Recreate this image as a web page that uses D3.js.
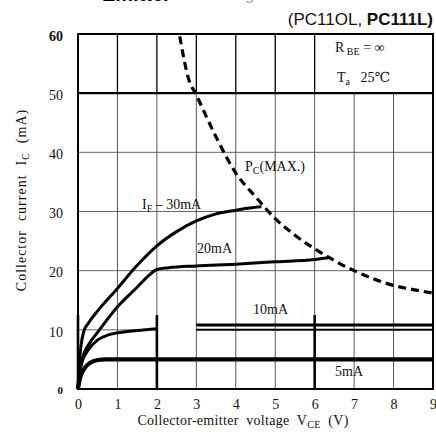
<!DOCTYPE html>
<html>
<head>
<meta charset="utf-8">
<script src="https://cdn.jsdelivr.net/npm/d3@7"></script>
<style>
  html, body { margin: 0; padding: 0; background: #fff; }
  svg { display: block; }
  svg text { white-space: pre; }
  .serif { font-family: "Liberation Serif", "DejaVu Serif", serif; }
  .sans { font-family: "Liberation Sans", Arial, sans-serif; }
</style>
</head>
<body>
<svg id="chart" width="436" height="437"></svg>
<script>
// Collector current vs. collector-emitter voltage (PC110L / PC111L)
const xTicks = [0, 1, 2, 3, 4, 5, 6, 7, 8, 9];
const yTicks = [0, 10, 20, 30, 40, 50, 60];

// I_F curves: [V_CE (V), I_C (mA)]; null marks a break in the trace
const curve30mA = [[0,0],[0.03,4],[0.08,7.5],[0.15,9.8],[0.25,11],[0.5,13.2],[1,17],[1.5,20.9],[2,24.2],[2.5,26.6],[3,28.4],[3.5,29.6],[4,30.2],[4.35,30.6],[4.65,30.8]];
const curve20mA = [[0,0],[0.05,3],[0.1,4.8],[0.3,7.8],[0.5,9.6],[1,13.9],[1.5,17.2],[1.8,19.2],[2,20.2],[2.3,20.5],[3,20.8],[4,21.1],[5,21.5],[6,21.9],[6.35,22.2]];
const curve10mA = [[0,0],[0.05,3],[0.1,4.5],[0.25,6.5],[0.5,8.3],[0.75,9.1],[1,9.5],[1.5,9.9],[2,10.2],null,[3,10.8],[9,10.8]];
const curve5mA  = [[0,0],[0.05,1.8],[0.1,2.7],[0.2,3.8],[0.3,4.4],[0.5,4.9],[0.7,5],[9,5]];

// Maximum collector power dissipation limit
const pcMax = [[2.58,59.6],[2.8,52.5],[3,49.7],[3.5,42.6],[4,36.5],[4.5,32.5],[5,28.8],[5.5,26],[6,23.7],[6.5,21.7],[7,20],[7.5,18.6],[8,17.5],[8.5,16.8],[9,16.2]];

const svg = d3.select("#chart");
svg.append("rect").attr("width", 436).attr("height", 437).attr("fill", "#fff");

const x = d3.scaleLinear().domain([0, 9]).range([78, 433]);
const y = d3.scaleLinear().domain([0, 60]).range([389, 34]);

// Heading line above the subtitle (runs off the top of the page)
svg.append("text").attr("class", "sans").attr("x", 102).attr("y", 1)
  .attr("font-size", 20).attr("font-weight", "bold").attr("fill", "#000").text("Emitter");
svg.append("text").attr("class", "sans").attr("x", 207).attr("y", 0)
  .attr("font-size", 17).attr("fill", "#aaa").text("Voltage");

// Subtitle
const sub = svg.append("text").attr("class", "sans").attr("x", 433).attr("y", 25)
  .attr("text-anchor", "end").attr("font-size", 17).attr("fill", "#111");
sub.append("tspan").text("(PC11OL, ");
sub.append("tspan").attr("font-weight", "bold").text("PC111L)");

// Grid
const grid = svg.append("g");
// vertical lines below 50 mA
grid.selectAll(".vlo").data(xTicks.slice(1, 9)).join("line")
  .attr("x1", d => x(d)).attr("x2", d => x(d))
  .attr("y1", y(0)).attr("y2", y(50))
  .attr("stroke", "#444").attr("stroke-width", 0.9);
// vertical lines in the top band (legend area on the right stays open)
grid.selectAll(".vhi").data(xTicks.slice(1, 7)).join("line")
  .attr("x1", d => x(d)).attr("x2", d => x(d))
  .attr("y1", y(50)).attr("y2", y(60))
  .attr("stroke", "#000").attr("stroke-width", 1.3);
// horizontal lines
grid.selectAll(".h").data([20, 30, 40]).join("line")
  .attr("x1", x(0)).attr("x2", x(9))
  .attr("y1", d => y(d)).attr("y2", d => y(d))
  .attr("stroke", "#555").attr("stroke-width", 0.9);
grid.append("line").attr("x1", x(0)).attr("x2", x(2)).attr("y1", y(10)).attr("y2", y(10))
  .attr("stroke", "#555").attr("stroke-width", 0.9);
grid.append("line").attr("x1", x(3)).attr("x2", x(9)).attr("y1", y(10)).attr("y2", y(10))
  .attr("stroke", "#000").attr("stroke-width", 2);
grid.append("line").attr("x1", x(0)).attr("x2", x(9)).attr("y1", y(50)).attr("y2", y(50))
  .attr("stroke", "#000").attr("stroke-width", 2.4);
// heavier verticals in the low-current band
grid.selectAll(".vbold").data([0, 2, 6]).join("line")
  .attr("x1", d => x(d)).attr("x2", d => x(d))
  .attr("y1", y(0)).attr("y2", y(12.5))
  .attr("stroke", "#000").attr("stroke-width", 2.6);

// Frame
svg.append("rect").attr("x", x(0)).attr("y", y(60))
  .attr("width", x(9) - x(0)).attr("height", y(0) - y(60))
  .attr("fill", "none").attr("stroke", "#000").attr("stroke-width", 2);

// Curves
const line = d3.line().defined(d => d !== null)
  .x(d => x(d[0])).y(d => y(d[1])).curve(d3.curveMonotoneX);
const curves = [
  { data: curve30mA, w: 3 },
  { data: curve20mA, w: 3 },
  { data: curve10mA, w: 3 },
  { data: curve5mA, w: 4.2 }
];
svg.append("g").selectAll("path").data(curves).join("path")
  .attr("d", d => line(d.data))
  .attr("fill", "none").attr("stroke", "#000")
  .attr("stroke-width", d => d.w).attr("stroke-linejoin", "round");

svg.append("path").attr("d", line(pcMax))
  .attr("fill", "none").attr("stroke", "#000").attr("stroke-width", 3.2)
  .attr("stroke-dasharray", "8,5");

// Axes
const xAxis = d3.axisBottom(x).tickValues(xTicks).tickSize(0).tickPadding(10);
const gx = svg.append("g").attr("transform", `translate(0,${y(0)})`).call(xAxis);
gx.select(".domain").remove();
gx.selectAll("text").attr("class", "serif").attr("font-size", 14).attr("fill", "#111");

const yAxis = d3.axisLeft(y).tickValues(yTicks).tickSize(0).tickPadding(15);
const gy = svg.append("g").attr("transform", `translate(${x(0)},0)`).call(yAxis);
gy.select(".domain").remove();
gy.selectAll("text").attr("class", "serif").attr("fill", "#111")
  .attr("dy", "0.45em")
  .attr("font-weight", d => (d === 0 || d === 60) ? "bold" : "normal")
  .attr("font-size", d => d === 0 ? 11 : 14);

// Axis titles
const xt = svg.append("text").attr("class", "serif").attr("x", 243).attr("y", 425)
  .attr("text-anchor", "middle").attr("font-size", 14).attr("fill", "#111")
  .attr("letter-spacing", 0.3);
xt.append("tspan").text("Collector-emitter  voltage  V");
xt.append("tspan").attr("font-size", 10).attr("dy", 3).text("CE");
xt.append("tspan").attr("dy", -3).text("  (V)");

const yt = svg.append("text").attr("class", "serif")
  .attr("transform", "translate(26,200) rotate(-90)")
  .attr("text-anchor", "middle").attr("font-size", 14).attr("fill", "#111")
  .attr("letter-spacing", 1);
yt.append("tspan").text("Collector  current  I");
yt.append("tspan").attr("font-size", 10).attr("dy", 3).text("C");
yt.append("tspan").attr("dy", -3).text("  (mA)");

// Annotations
function label(px, py, parts, size) {
  const t = svg.append("text").attr("class", "serif").attr("x", px).attr("y", py)
    .attr("font-size", size || 14).attr("fill", "#111");
  parts.forEach(p => {
    const s = t.append("tspan").text(p.t);
    if (p.sub) s.attr("font-size", 10).attr("dy", 3);
    if (p.up) s.attr("dy", -3);
  });
  return t;
}
label(335, 52, [{ t: "R" }, { t: " BE", sub: true }, { t: " = ∞", up: true }]);
label(337, 82, [{ t: "T" }, { t: "a", sub: true }, { t: "   25℃", up: true }]);
label(245, 171, [{ t: "P" }, { t: "C", sub: true }, { t: "(MAX.)", up: true }]);
label(142, 209, [{ t: "I" }, { t: "F", sub: true }, { t: " – 30mA", up: true }]);
label(197, 253, [{ t: "20mA" }]);
label(253, 314, [{ t: "10mA" }]);
label(335, 376, [{ t: "5mA" }]);
</script>
</body>
</html>
